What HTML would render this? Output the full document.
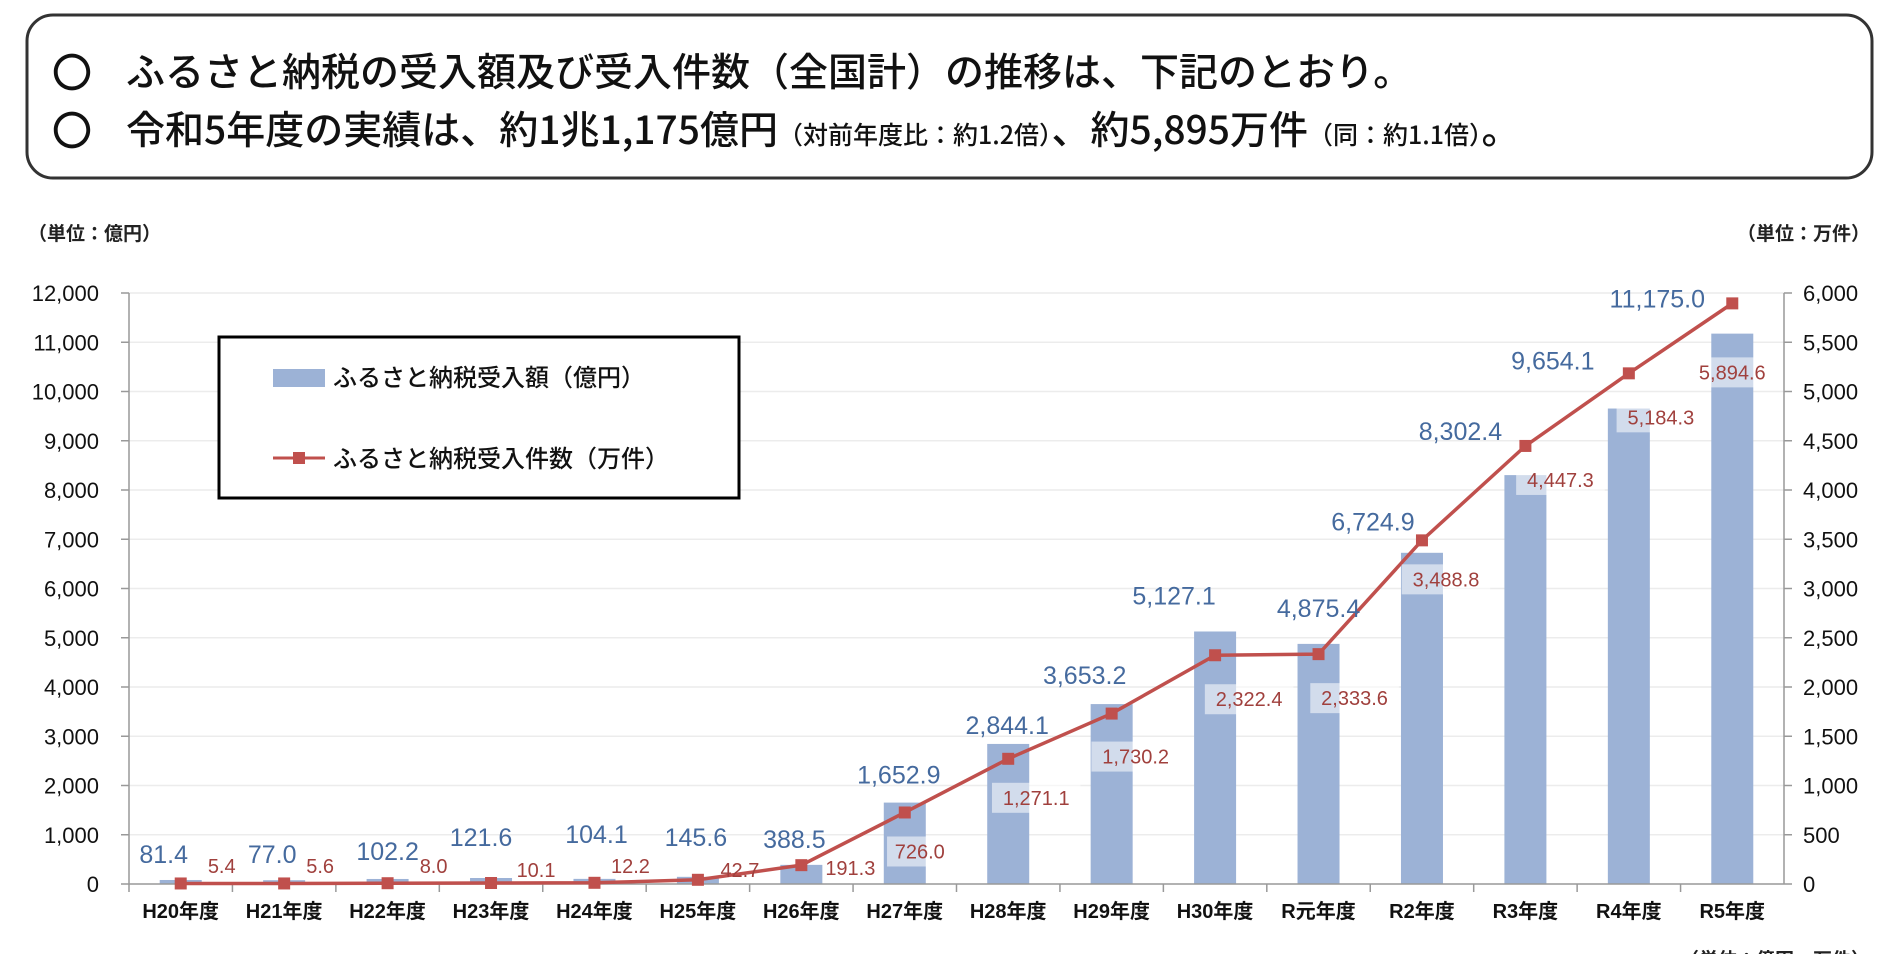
<!DOCTYPE html>
<html><head><meta charset="utf-8"><style>
html,body{margin:0;padding:0;background:#fff;}
svg{display:block;font-family:"Liberation Sans","Noto Sans CJK JP",sans-serif;}
</style></head><body>
<svg id="chart" width="1896" height="954" viewBox="0 0 1896 954" xmlns="http://www.w3.org/2000/svg">
<g>
<rect x="27" y="15" width="1845" height="163" rx="26" fill="#fff" stroke="#333" stroke-width="3"/>
<text x="52" y="87" font-size="40" font-weight="500" fill="#111">〇</text>
<text x="126" y="86" font-size="39" font-weight="500" fill="#111" font-family="Noto Sans CJK JP, sans-serif">ふるさと納税の受入額及び受入件数（全国計）の推移は、下記のとおり。</text>
<text x="52" y="145" font-size="40" font-weight="500" fill="#111">〇</text>
<text x="126" y="144" font-size="39" font-weight="500" fill="#111" font-family="Noto Sans CJK JP, sans-serif">令和5年度の実績は、約1兆1,175億円<tspan font-size="25">（対前年度比：約1.2倍）</tspan>、約5,895万件<tspan font-size="25">（同：約1.1倍）</tspan>。</text>
</g>
<text x="28" y="240" font-size="19" font-weight="bold" fill="#222">（単位：億円）</text>
<text x="1870" y="240" font-size="19" font-weight="bold" fill="#222" text-anchor="end">（単位：万件）</text>
<text x="1680" y="966" font-size="19" font-weight="bold" fill="#222">（単位：億円・万件）</text>
<g id="grid"></g><g id="bars"></g><g id="axes"></g><g id="line"></g><g id="labels"></g>
<g>
<rect x="219" y="337" width="520" height="161" fill="#fff" stroke="#000" stroke-width="3"/>
<rect x="273" y="369" width="52" height="18" fill="#9cb2d6"/>
<text x="333" y="386" font-size="24" font-weight="500" fill="#111">ふるさと納税受入額（億円）</text>
<line x1="273" y1="458" x2="325" y2="458" stroke="#c0504d" stroke-width="3"/>
<rect x="293" y="452" width="12" height="12" fill="#c0504d"/>
<text x="333" y="467" font-size="24" font-weight="500" fill="#111">ふるさと納税受入件数（万件）</text>
</g>
</svg>
<script>
const categories=["H20年度","H21年度","H22年度","H23年度","H24年度","H25年度","H26年度","H27年度","H28年度","H29年度","H30年度","R元年度","R2年度","R3年度","R4年度","R5年度"];
const amounts=[81.4,77.0,102.2,121.6,104.1,145.6,388.5,1652.9,2844.1,3653.2,5127.1,4875.4,6724.9,8302.4,9654.1,11175.0];
const counts=[5.4,5.6,8.0,10.1,12.2,42.7,191.3,726.0,1271.1,1730.2,2322.4,2333.6,3488.8,4447.3,5184.3,5894.6];
const leftTicks=[0,1000,2000,3000,4000,5000,6000,7000,8000,9000,10000,11000,12000];
const rightTicks=[0,500,1000,1500,2000,2500,3000,3500,4000,4500,5000,5500,6000];
// label layout offsets (not data)
const amtDx=[-17,-12,0,-10,2,-2,-7,-6,-1,-27,-41,0,-49,-65,-76,-75];
const amtDy=[-26,-26,-28,-41,-45,-40,-26,-28,-19,-29,-36,-36,-19,-15,-13,-5];
const cntDx=[41,36,46,45,36,42,49,15,28,24,34,36,24,35,32,0];
const cntDy=[0,0,0,4,0,4,2,39,39,43,44,44,39,34,44,69];

const NS="http://www.w3.org/2000/svg";
const X0=129,X1=1784,Y0=884,Y1=293;
const bw=(X1-X0)/categories.length;
const xc=i=>X0+bw*(i+0.5);
const yL=v=>Y0-(v/12000)*(Y0-Y1);
const yR=v=>Y0-(v/6000)*(Y0-Y1);
function mk(tag,attrs,parent){const e=document.createElementNS(NS,tag);for(const k in attrs)e.setAttribute(k,attrs[k]);document.getElementById(parent).appendChild(e);return e;}
const fmt=v=>v.toLocaleString("en-US",{minimumFractionDigits:1,maximumFractionDigits:1});

leftTicks.forEach((t,i)=>{
 if(t>0){const g=mk("line",{x1:X0,x2:X1,y1:yL(t),y2:yL(t),stroke:"#ececec","stroke-width":1.5},"grid");
 
 }
 const tk=mk("line",{x1:X0-8,x2:X0,y1:yL(t),y2:yL(t),stroke:"#999","stroke-width":1.5},"axes");
 
 
 const l=mk("text",{x:99,y:yL(t)+8,"font-size":22,"text-anchor":"end",fill:"#111"},"axes");
 l.textContent=t.toLocaleString("en-US");
 
 
});
rightTicks.forEach(t=>{
 const tk=mk("line",{x1:X1,x2:X1+8,y1:yR(t),y2:yR(t),stroke:"#999","stroke-width":1.5},"axes");
 
 
 const l=mk("text",{x:1803,y:yR(t)+8,"font-size":22,fill:"#111"},"axes");
 l.textContent=t.toLocaleString("en-US");
 
 
});
let a=mk("line",{x1:X0,x2:X0,y1:Y1,y2:Y0,stroke:"#999","stroke-width":1.5},"axes");


a=mk("line",{x1:X1,x2:X1,y1:Y1,y2:Y0,stroke:"#999","stroke-width":1.5},"axes");


a=mk("line",{x1:X0,x2:X1,y1:Y0,y2:Y0,stroke:"#999","stroke-width":1.5},"axes");



categories.forEach((c,i)=>{
 const tk=mk("line",{x1:X0+bw*i,x2:X0+bw*i,y1:Y0,y2:Y0+8,stroke:"#999","stroke-width":1.5},"axes");
 
 
 const l=mk("text",{x:xc(i),y:918,"font-size":20,"font-weight":"bold","text-anchor":"middle",fill:"#111"},"axes");
 l.textContent=c;
 
 
 const b=mk("rect",{x:xc(i)-21,y:yL(amounts[i]),width:42,height:Y0-yL(amounts[i]),fill:"#9cb2d6"},"bars");
 
 
});
const pts=counts.map((v,i)=>xc(i)+","+yR(v)).join(" ");
const pl=mk("polyline",{points:pts,fill:"none",stroke:"#c0504d","stroke-width":3.5},"line");


counts.forEach((v,i)=>{
 const m=mk("rect",{x:xc(i)-6,y:yR(v)-6,width:12,height:12,fill:"#c0504d"},"line");
 
 
});
amounts.forEach((v,i)=>{
 const top=Math.min(yL(v),yR(counts[i]));
 const l=mk("text",{x:xc(i)+amtDx[i],y:top+amtDy[i]+9,"font-size":25,"text-anchor":"middle",fill:"#456a9e"},"labels");
 l.textContent=fmt(v);
 
 
});
counts.forEach((v,i)=>{
 const cy=i<7?866+cntDy[i]:yR(v)+cntDy[i];
 const x=xc(i)+cntDx[i];
 const s=fmt(v);
 const w=s.length*11.5+8;
 if(i>=7){const bg=mk("rect",{x:x-w/2,y:cy-15,width:w,height:30,fill:"#fff","fill-opacity":0.55},"labels");
 
 }
 const l=mk("text",{x:x,y:cy+7,"font-size":20,"text-anchor":"middle",fill:"#a0403d"},"labels");
 l.textContent=s;
 
 
});
</script>
</body></html>
